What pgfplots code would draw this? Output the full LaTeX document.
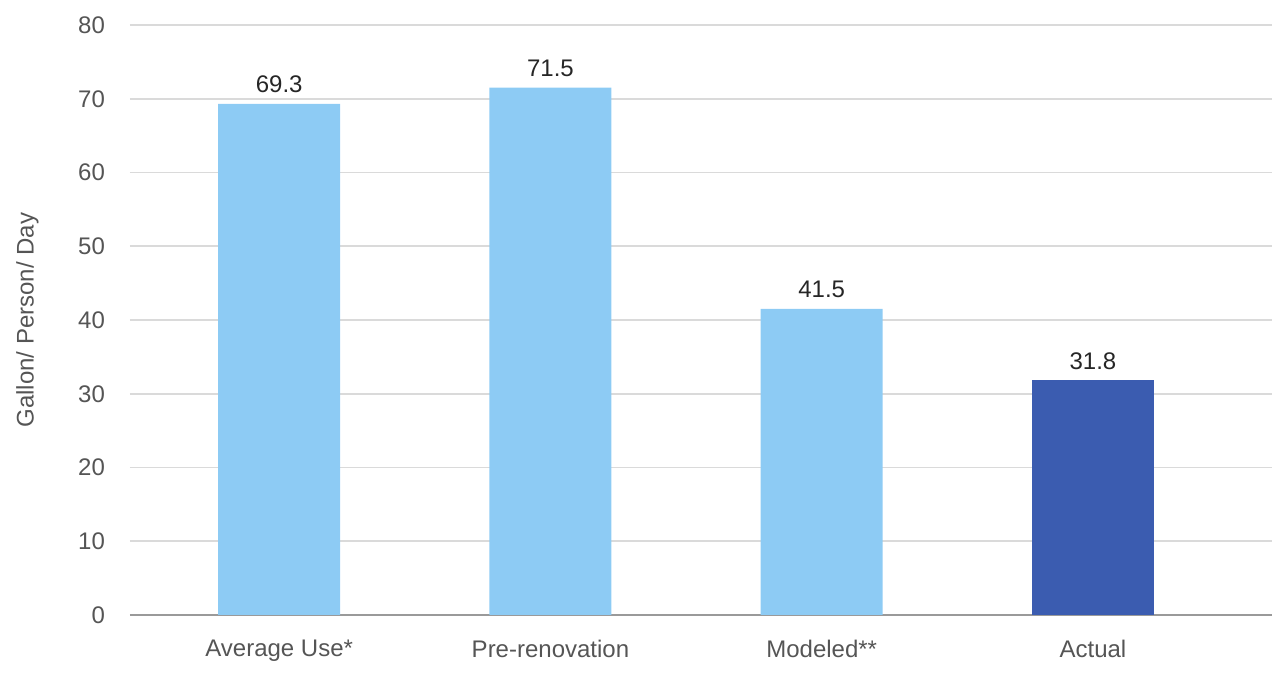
\documentclass[border=0pt]{standalone}
\usepackage{pgfplots}
\pgfplotsset{compat=1.18}
\usepackage{fontspec}
\setmainfont{Liberation Sans}
\definecolor{lightbar}{HTML}{8DCBF4}
\definecolor{darkbar}{HTML}{3B5CB0}
\definecolor{gridgray}{HTML}{DADADA}
\definecolor{axisgray}{HTML}{9A9A9A}
\definecolor{ticktext}{HTML}{555555}
\begin{document}
\begin{tikzpicture}
\begin{axis}[
    name=ax,
    scale only axis,
    width=571pt, height=295pt,
    ymin=0, ymax=80, ytick={0,10,...,80},
    xmin=-0.55, xmax=3.66,
    xtick={0,1,2,3},
    xticklabels={Average Use*, Pre-renovation, Modeled**, Actual},
    ybar, bar width=61pt,
    axis x line*=bottom, axis y line*=left,
    x axis line style={axisgray, line width=1pt, -},
    y axis line style={draw=none},
    ymajorgrids, grid style={gridgray, line width=0.8pt},
    major tick length=0pt,
    ticklabel style={font=\fontsize{12}{14}\selectfont, text=ticktext},
    yticklabel style={xshift=-9pt},
    xticklabel style={yshift=-9pt},
    /pgf/number format/assume math mode=true,
    ylabel={Gallon/ Person/ Day},
    ylabel style={font=\fontsize{12}{14}\selectfont, text=ticktext},
    ylabel shift=13pt,
    nodes near coords,
    nodes near coords style={font=\fontsize{12}{14}\selectfont, text=black!85, yshift=2pt},
    every node near coord/.append style={/pgf/number format/.cd, fixed, fixed zerofill, precision=1},
]
\addplot[fill=lightbar, draw=none, bar shift=0pt] coordinates {(0,69.3) (1,71.5) (2,41.5)};
\addplot[fill=darkbar, draw=none, bar shift=0pt] coordinates {(3,31.8)};
\end{axis}
\pgfresetboundingbox
\path ([shift={(-65pt,-29.5pt)}]ax.south west) rectangle ([shift={(1pt,12.5pt)}]ax.north east);
\end{tikzpicture}
\end{document}
